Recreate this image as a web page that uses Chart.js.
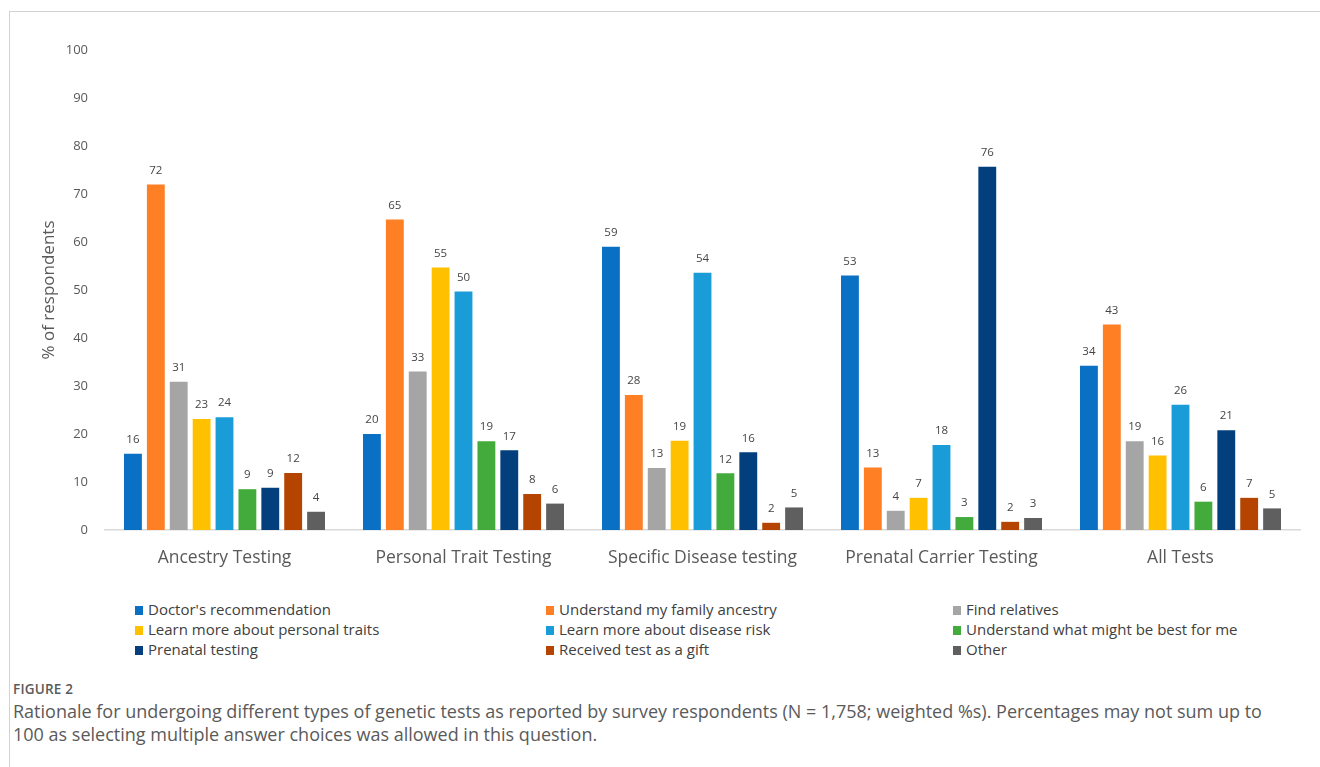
<!DOCTYPE html>
<html>
<head>
<meta charset="utf-8">
<script src="https://cdn.jsdelivr.net/npm/chart.js@4"></script>
<style>
  html, body { margin:0; padding:0; background:#fff; }
  body { width:1320px; height:767px; position:relative; overflow:hidden; font-family:"Open Sans", sans-serif; }
  #frame { position:absolute; left:9px; top:11px; width:1320px; height:800px; border-top:1.5px solid #d2d2d2; border-left:1.5px solid #d2d2d2; }
  #wrap { position:absolute; left:0; top:0; width:1320px; height:580px; }
  #legend { position:absolute; left:0; top:599px; width:1320px; height:64px; }
  .li { position:absolute; font-size:15px; color:#404040; white-space:nowrap; line-height:20px; }
  .li span.m { display:inline-block; width:8px; height:9px; margin-right:5px; vertical-align:0px; }
  #fig { position:absolute; left:13px; top:680px; font-size:13.5px; font-weight:600; color:#5a5a5a; letter-spacing:0.2px; }
  #cap { position:absolute; left:13px; top:700px; font-size:18px; color:#5a5a5a; line-height:23px; white-space:nowrap; }
</style>
</head>
<body>
<div id="frame"></div>
<div id="wrap"><canvas id="c" width="1320" height="580"></canvas></div>
<div id="legend"></div>
<div id="fig">FIGURE 2</div>
<div id="cap">Rationale for undergoing different types of genetic tests as reported by survey respondents (N = 1,758; weighted %s). Percentages may not sum up to<br>100 as selecting multiple answer choices was allowed in this question.</div>
<script>
const categories = ["Ancestry Testing", "Personal Trait Testing", "Specific Disease testing", "Prenatal Carrier Testing", "All Tests"];
const seriesNames = ["Doctor's recommendation", "Understand my family ancestry", "Find relatives", "Learn more about personal traits", "Learn more about disease risk", "Understand what might be best for me", "Prenatal testing", "Received test as a gift", "Other"];
const doctorRec      = [15.9, 20.0, 59.0, 53.0, 34.2];
const familyAncestry = [72.0, 64.7, 28.1, 13.0, 42.8];
const findRelatives  = [30.9, 33.0, 12.9, 4.0, 18.5];
const personalTraits = [23.1, 54.7, 18.6, 6.7, 15.5];
const diseaseRisk    = [23.5, 49.7, 53.6, 17.7, 26.1];
const bestForMe      = [8.5, 18.5, 11.8, 2.7, 5.9];
const prenatal       = [8.8, 16.6, 16.2, 75.7, 20.8];
const gift           = [11.9, 7.5, 1.5, 1.7, 6.7];
const other          = [3.8, 5.5, 4.7, 2.5, 4.5];
const yTicks = [0, 10, 20, 30, 40, 50, 60, 70, 80, 90, 100];

const seriesValues = [doctorRec, familyAncestry, findRelatives, personalTraits, diseaseRisk, bestForMe, prenatal, gift, other];
const colors = ["#0A70C3", "#FE7F24", "#A5A5A5", "#FFC000", "#199CD8", "#43AB3B", "#023F7C", "#B44400", "#5F5F5F"];

const valueLabels = {
  id: 'valueLabels',
  afterDatasetsDraw(chart) {
    const ctx = chart.ctx;
    ctx.save();
    ctx.font = '11.5px "Open Sans", sans-serif';
    ctx.fillStyle = '#454545';
    ctx.textAlign = 'center';
    ctx.textBaseline = 'middle';
    chart.data.datasets.forEach((ds, i) => {
      const meta = chart.getDatasetMeta(i);
      meta.data.forEach((bar, j) => {
        ctx.fillText(String(Math.round(ds.data[j])), bar.x, bar.y - 14);
      });
    });
    ctx.restore();
  }
};

const chart = new Chart(document.getElementById('c'), {
  type: 'bar',
  data: {
    labels: categories,
    datasets: seriesNames.map((n, i) => ({
      label: n, data: seriesValues[i], backgroundColor: colors[i],
      borderWidth: 0, categoryPercentage: 0.862, barPercentage: 0.78
    }))
  },
  options: {
    responsive: false,
    animation: false,
    devicePixelRatio: 1,
    layout: { padding: { top: 50, left: 0, right: 20, bottom: 0 } },
    plugins: { legend: { display: false }, tooltip: { enabled: false } },
    scales: {
      x: {
        grid: { display: false, drawTicks: false },
        border: { display: true, color: '#d9d9d9', width: 1.5 },
        ticks: { font: { family: 'Open Sans', size: 17.5 }, color: '#595959', padding: 18, maxRotation: 0 },
        afterFit: s => { s.height = 50; }
      },
      y: {
        min: 0, max: 100,
        afterBuildTicks: s => { s.ticks = yTicks.map(v => ({ value: v })); },
        grid: { display: false, drawTicks: false },
        border: { display: false },
        ticks: { font: { family: 'Open Sans', size: 13 }, color: '#595959', padding: 17 },
        title: { display: true, text: '% of respondents', font: { family: 'Open Sans', size: 17 }, color: '#595959', padding: { top: 39, bottom: 0 } },
        afterFit: s => { s.width = 105; }
      }
    }
  },
  plugins: [valueLabels]
});

const legend = document.getElementById('legend');
const colX = [135, 546, 953];
chart.data.datasets.forEach((ds, i) => {
  const d = document.createElement('div');
  d.className = 'li';
  d.style.left = colX[i % 3] + 'px';
  d.style.top = (Math.floor(i / 3) * 20) + 'px';
  d.innerHTML = '<span class="m" style="background:' + ds.backgroundColor + '"></span>';
  d.appendChild(document.createTextNode(ds.label));
  legend.appendChild(d);
});
</script>
</body>
</html>
